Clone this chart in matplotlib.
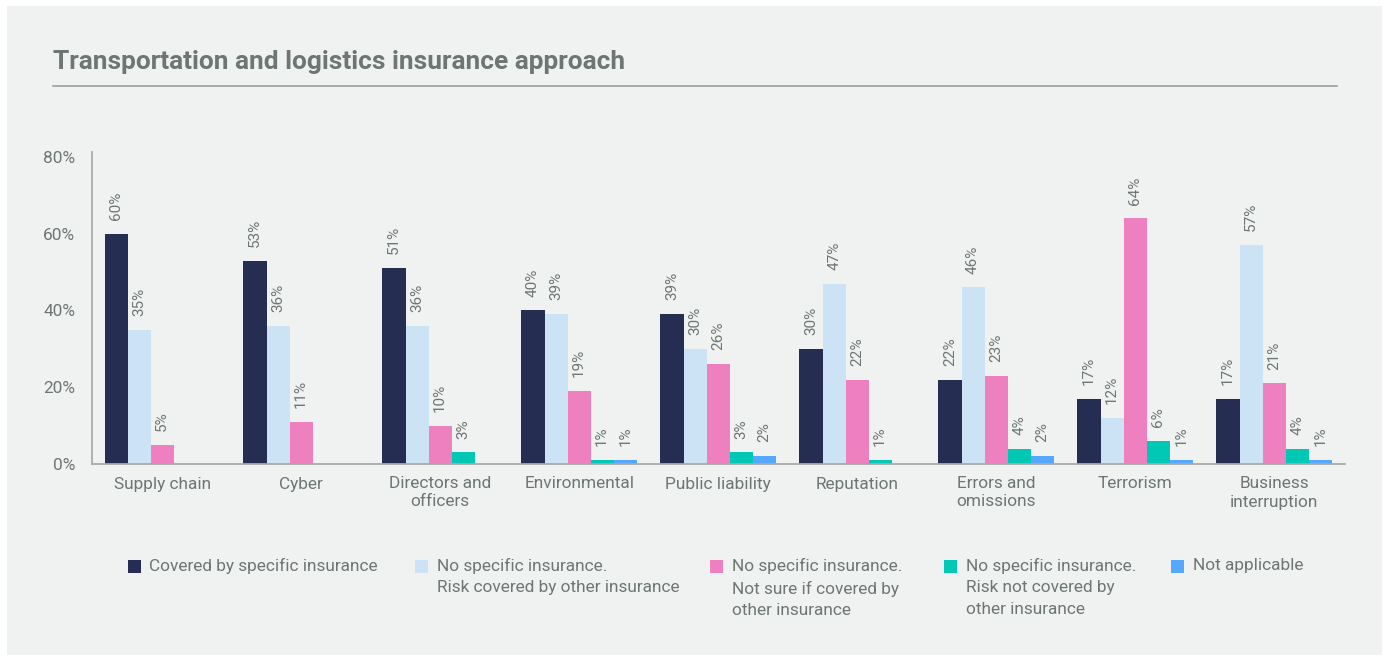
import matplotlib.pyplot as plt, numpy as np
from matplotlib.patches import Rectangle

categories = ['Supply chain', 'Cyber', 'Directors and\nofficers', 'Environmental',
              'Public liability', 'Reputation', 'Errors and\nomissions', 'Terrorism',
              'Business\ninterruption']
series_names = ['Covered by specific insurance',
                'No specific insurance.\nRisk covered by other insurance',
                'No specific insurance.\nNot sure if covered by\nother insurance',
                'No specific insurance.\nRisk not covered by\nother insurance',
                'Not applicable']
covered       = [60, 53, 51, 40, 39, 30, 22, 17, 17]
other_cover   = [35, 36, 36, 39, 30, 47, 46, 12, 57]
not_sure      = [5, 11, 10, 19, 26, 22, 23, 64, 21]
not_covered   = [0, 0, 3, 1, 3, 1, 4, 6, 4]
not_applic    = [0, 0, 0, 1, 2, 0, 2, 1, 1]
yticks = [0, 20, 40, 60, 80]

colors = ['#262d52', '#cce3f5', '#ee80c0', '#00c8b4', '#56a8ff']
grey = '#6e7672'
plt.rcParams['font.family'] = ['Roboto', 'DejaVu Sans']

fig = plt.figure(figsize=(13.89, 6.61), dpi=100, facecolor='white')
fig.patches.append(Rectangle((7/1389, 6/661), 1375/1389, 649/661, transform=fig.transFigure,
                             facecolor='#f0f2f1', edgecolor='none', zorder=-10))
fig.text(53/1389, 1-62/661, 'Transportation and logistics insurance approach',
         fontsize=18.9, fontweight='bold', color=grey, va='center', ha='left')
fig.add_artist(plt.Line2D([53/1389, 1337/1389], [1-86/661, 1-86/661],
                          transform=fig.transFigure, color='#9aa09d', lw=1.2))

ax = fig.add_axes([92/1389, 1-464/661, (1345-92)/1389, (464-152)/661])
ax.set_facecolor('none')

x = np.arange(len(categories))
w = 0.166
data = [covered, other_cover, not_sure, not_covered, not_applic]
for i, vals in enumerate(data):
    pos = x + (i - 2) * w
    ax.bar(pos, vals, w, color=colors[i], linewidth=0)
    for p, v in zip(pos, vals):
        if v > 0:
            ax.annotate(f'{v}%', (p, v), xytext=(0, 10), textcoords='offset points',
                        rotation=90, ha='center', va='bottom', fontsize=11, color=grey)

ax.set_xlim(-0.505, 8.51)
ax.set_ylim(0, 81.3)
ax.set_yticks(yticks)
ax.set_yticklabels([f'{t}%' for t in yticks])
ax.set_xticks(x)
ax.set_xticklabels(categories, linespacing=1.25)
ax.tick_params(axis='both', length=0, colors=grey, labelsize=12.4)
ax.tick_params(axis='y', pad=12)
ax.tick_params(axis='x', pad=9)
for s in ['top', 'right']:
    ax.spines[s].set_visible(False)
for s in ['left', 'bottom']:
    ax.spines[s].set_color('#a8aaa9')
    ax.spines[s].set_linewidth(1.3)

# legend drawn by hand so the swatch sits on the first line
swatch_x = [128, 415, 710, 944, 1171]
text_x = [149, 437, 732, 966, 1193]
for xs, xt, name, c in zip(swatch_x, text_x, series_names, colors):
    fig.patches.append(Rectangle((xs/1389, 1-573/661), 13/1389, 13/661,
                                 transform=fig.transFigure, facecolor=c, edgecolor='none'))
    fig.text(xt/1389, 1-558/661, name, fontsize=12.4, color=grey,
             va='top', ha='left', linespacing=1.52)

fig.savefig('out.png', dpi=100, facecolor=fig.get_facecolor())
